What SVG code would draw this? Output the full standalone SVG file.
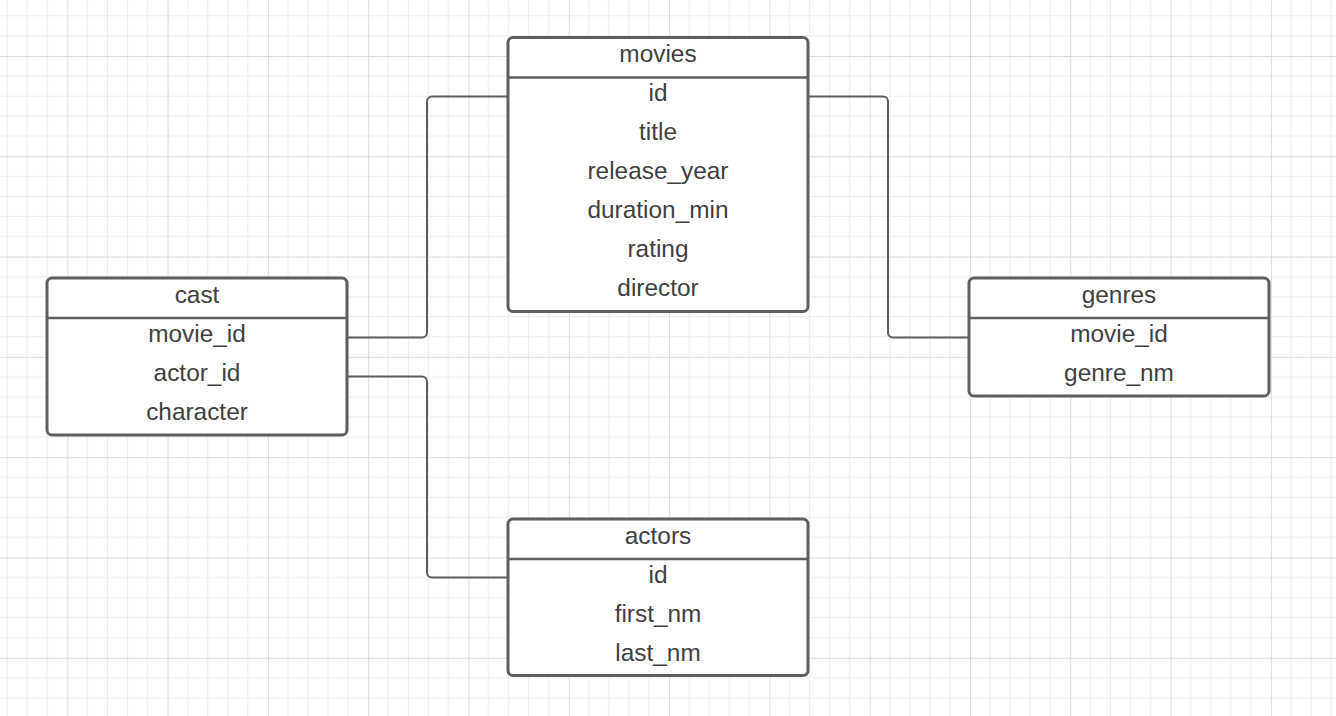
<svg xmlns="http://www.w3.org/2000/svg" width="1336" height="716" viewBox="0 0 1336 716">
<style>
.box{fill:#ffffff;stroke:#5e5e5e;stroke-width:3}
.div{stroke:#5e5e5e;stroke-width:2.5}
.conn{fill:none;stroke:#5e5e5e;stroke-width:2;stroke-linejoin:round}
text{font-family:"Liberation Sans",Arial,sans-serif;font-size:24.4px;fill:#3f3f3f;text-anchor:middle}
</style>
<defs>
<pattern id="grid" patternUnits="userSpaceOnUse" x="67.3" y="56" width="100.3" height="100.3">
<path d="M20.06 0V100.3M40.12 0V100.3M60.18 0V100.3M80.24 0V100.3M0 20.06H100.3M0 40.12H100.3M0 60.18H100.3M0 80.24H100.3" stroke="#ececec" stroke-width="1" fill="none"/>
<path d="M0.5 0V100.3M0 0.5H100.3" stroke="#dcdcdc" stroke-width="1" fill="none"/>
</pattern>
</defs>
<rect width="1336" height="716" fill="#ffffff"/>
<rect width="1336" height="716" fill="url(#grid)"/>
<g id="connectors">
<path class="conn" d="M508 96.5H432a5 5 0 0 0 -5 5V332.5a5 5 0 0 1 -5 5H347"/>
<path class="conn" d="M347 376.5H422a5 5 0 0 1 5 5V572.5a5 5 0 0 0 5 5H508"/>
<path class="conn" d="M808 96.5H883a5 5 0 0 1 5 5V332.5a5 5 0 0 0 5 5H969"/>
</g>
<g id="movies">
<rect class="box" x="508" y="37.5" width="300" height="274" rx="5"/>
<line class="div" x1="508" y1="77.5" x2="808" y2="77.5"/>
<text x="658" y="62">movies</text>
<text x="658" y="101">id</text>
<text x="658" y="140">title</text>
<text x="658" y="179">release_year</text>
<text x="658" y="218">duration_min</text>
<text x="658" y="257">rating</text>
<text x="658" y="296">director</text>
</g>
<g id="cast">
<rect class="box" x="47" y="278" width="300" height="157" rx="5"/>
<line class="div" x1="47" y1="318" x2="347" y2="318"/>
<text x="197" y="302.5">cast</text>
<text x="197" y="341.5">movie_id</text>
<text x="197" y="380.5">actor_id</text>
<text x="197" y="419.5">character</text>
</g>
<g id="genres">
<rect class="box" x="969" y="278" width="300" height="118" rx="5"/>
<line class="div" x1="969" y1="318" x2="1269" y2="318"/>
<text x="1119" y="302.5">genres</text>
<text x="1119" y="341.5">movie_id</text>
<text x="1119" y="380.5">genre_nm</text>
</g>
<g id="actors">
<rect class="box" x="508" y="519" width="300" height="156.5" rx="5"/>
<line class="div" x1="508" y1="559" x2="808" y2="559"/>
<text x="658" y="543.5">actors</text>
<text x="658" y="582.5">id</text>
<text x="658" y="621.5">first_nm</text>
<text x="658" y="660.5">last_nm</text>
</g>
</svg>
